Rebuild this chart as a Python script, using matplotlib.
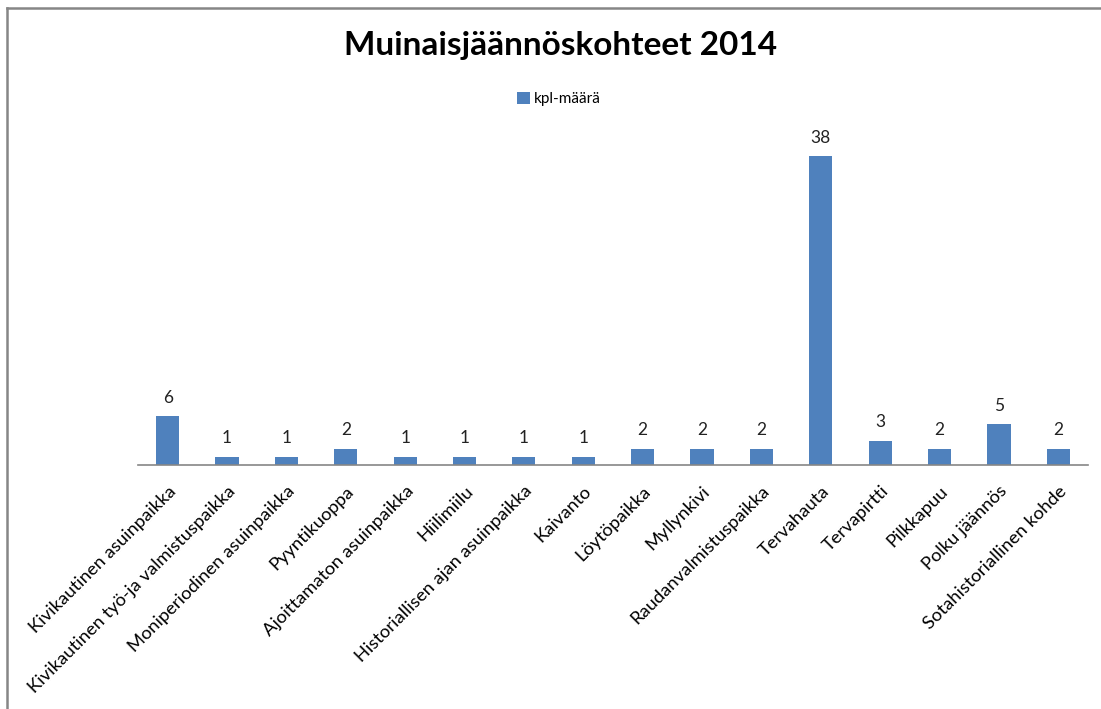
import matplotlib
matplotlib.use("Agg")
import matplotlib.pyplot as plt
from matplotlib.lines import Line2D

plt.rcParams["font.family"] = ["Lato", "DejaVu Sans"]

categories = ["Kivikautinen asuinpaikka", "Kivikautinen työ-ja valmistuspaikka",
              "Moniperiodinen asuinpaikka", "Pyyntikuoppa", "Ajoittamaton asuinpaikka",
              "Hiilimiilu", "Historiallisen ajan asuinpaikka", "Kaivanto", "Löytöpaikka",
              "Myllynkivi", "Raudanvalmistuspaikka", "Tervahauta", "Tervapirtti",
              "Pilkkapuu", "Polku jäännös", "Sotahistoriallinen kohde"]
counts = [6, 1, 1, 2, 1, 1, 1, 1, 2, 2, 2, 38, 3, 2, 5, 2]

fig = plt.figure(figsize=(11.01, 7.09), dpi=100)
ax = fig.add_axes([0.1253, 0.3442, 0.8629, 0.4583])

x = range(len(categories))
bars = ax.bar(x, counts, width=0.39, color="#4F81BD", label="kpl-määrä")
for b, v in zip(bars, counts):
    ax.text(b.get_x() + b.get_width() / 2, v + 1.3, str(v), ha="center", va="bottom",
            fontsize=12.5, color="#222222")

ax.set_xlim(-0.5, len(categories) - 0.5)
ax.set_ylim(0, 40)
ax.set_yticks([])
ax.set_xticks(list(x))
ax.set_xticklabels(categories, rotation=45, ha="right", rotation_mode="anchor", fontsize=13.2)
ax.tick_params(axis="x", length=0, pad=13)
for s in ["top", "right", "left"]:
    ax.spines[s].set_visible(False)
ax.spines["bottom"].set_color("#868686")
ax.spines["bottom"].set_linewidth(1.2)

fig.text(0.509, 0.936, "Muinaisjäännöskohteet 2014", ha="center", va="center",
         fontsize=24, fontweight="bold")
fig.legend(handles=[bars], labels=["kpl-määrä"], loc="center", bbox_to_anchor=(0.508, 0.86),
           frameon=False, fontsize=11, handlelength=0.8, handleheight=0.8, handletextpad=0.3)

# chart border (top and left visible)
fig.add_artist(Line2D([0.0068, 1.0], [0.9887, 0.9887], color="#868686", lw=1.8))
fig.add_artist(Line2D([0.0068, 0.0068], [0.0, 0.9887], color="#868686", lw=1.8))

fig.savefig("out.png", dpi=100)
